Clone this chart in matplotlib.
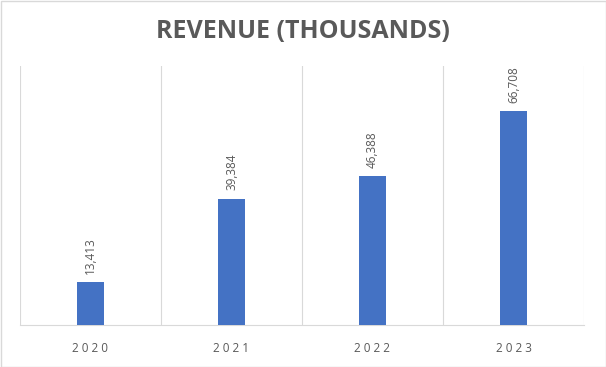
import matplotlib
matplotlib.use("Agg")
import matplotlib.pyplot as plt
from matplotlib.patches import Rectangle

years = ["2020", "2021", "2022", "2023"]
revenue = [13413, 39384, 46388, 66708]

plt.rcParams['font.family'] = ['Open Sans', 'DejaVu Sans']


def spaced(s, gap="\u200a"):
    # letter-spaced text: gap between letters, normal space between words
    return "  ".join(gap.join(w) for w in s.split(" "))


fig = plt.figure(figsize=(6.06, 3.67), dpi=100)
ax = fig.add_axes([20/606, 42/367, 564/606, 259/367])

x = list(range(len(years)))
bars = ax.bar(x, revenue, width=0.185, color="#4472C4", zorder=3)

ax.set_xlim(-0.5, len(years) - 0.5)
ax.set_ylim(0, 80700)

# vertical gridlines between the categories
for b in [i - 0.5 for i in range(len(years) + 1)]:
    ax.axvline(b, color="#D9D9D9", lw=0.8, zorder=1)

for s in ["top", "left", "right"]:
    ax.spines[s].set_visible(False)
ax.spines["bottom"].set_color("#D9D9D9")
ax.spines["bottom"].set_linewidth(0.8)

ax.set_yticks([])
ax.set_xticks(x)
ax.set_xticklabels([" ".join(y) for y in years], color="#595959", fontsize=8.5)
ax.tick_params(axis="x", length=0, pad=12)

for xi, v in zip(x, revenue):
    ax.annotate(f"{v:,}", (xi, v), xytext=(0, 6), textcoords="offset points",
                rotation=90, ha="center", va="bottom", color="#595959", fontsize=8.5)

fig.text(0.5, 1 - 32/367, "REVENUE (THOUSANDS)",
         ha="center", va="center", fontsize=18, fontweight="bold", color="#595959")

fig.patches.append(Rectangle((0.5/606, 0.5/367), 605/606, 366/367, transform=fig.transFigure,
                             fill=False, edgecolor="#D9D9D9", lw=1))

fig.savefig("out.png", dpi=100)
